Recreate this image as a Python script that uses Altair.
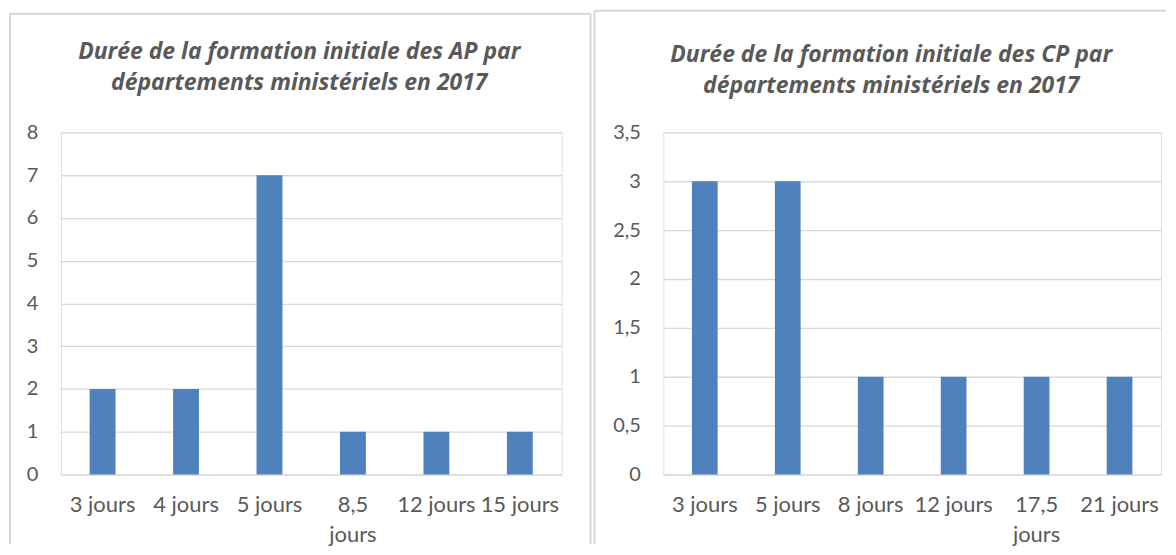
import altair as alt
import pandas as pd

# ---- data ----
AP_CATS = ["3 jours", "4 jours", "5 jours", "8,5 jours", "12 jours", "15 jours"]
AP_VALS = [2, 2, 7, 1, 1, 1]
AP_TICKS = [0, 1, 2, 3, 4, 5, 6, 7, 8]
AP_TITLE = ["Durée de la formation initiale des AP par", "départements ministériels en 2017"]

CP_CATS = ["3 jours", "5 jours", "8 jours", "12 jours", "17,5 jours", "21 jours"]
CP_VALS = [3, 3, 1, 1, 1, 1]
CP_TICKS = [0, 0.5, 1, 1.5, 2, 2.5, 3, 3.5]
CP_TITLE = ["Durée de la formation initiale des CP par", "départements ministériels en 2017"]

TXT = "#595959"
GRID = "#D9D9D9"
BAR = "#4F81BD"
BORDER = "#D6D6D6"
FONT = "Lato"
TITLE_FONT = "Open Sans"


def panel(cats, vals, ticks, title, width, height, dx, title_y, left, top, bottom, draw_right=True, right_ext=0):
    df = pd.DataFrame({"cat": cats, "val": vals})
    bars = alt.Chart(df).mark_bar(color=BAR).encode(
        x=alt.X(
            "cat:N",
            sort=cats,
            scale=alt.Scale(paddingInner=0.69, paddingOuter=0.345),
            axis=alt.Axis(
                title=None, labelAngle=0, domain=False, ticks=False, grid=False,
                labelExpr="length(datum.label) > 8 ? split(datum.label, ' ') : datum.label",
                labelFont=FONT, labelFontSize=22, labelColor=TXT, labelPadding=20,
                labelLineHeight=30, labelOverlap=False, labelLimit=300,
            ),
        ),
        y=alt.Y(
            "val:Q",
            scale=alt.Scale(domain=[ticks[0], ticks[-1]], nice=False),
            axis=alt.Axis(
                title=None, values=ticks, domain=False, ticks=False,
                gridColor=GRID, gridWidth=1.3,
                labelExpr="replace(format(datum.value, '~g'), '.', ',')",
                labelFont=FONT, labelFontSize=20, labelColor=TXT, labelPadding=23,
                labelOverlap=False,
            ),
        ),
    )
    frame_df = pd.DataFrame({"k": [0]})
    base = alt.Chart(frame_df)
    title_text = base.mark_text(
        font=TITLE_FONT, fontSize=23, fontStyle="italic", fontWeight="bold",
        color=TXT, align="center", baseline="alphabetic", lineHeight=32,
    ).encode(
        text=alt.value(title), x=alt.value(width / 2 + dx), y=alt.value(title_y)
    )
    top_rule = base.mark_rule(color=BORDER, strokeWidth=2).encode(
        x=alt.value(left), x2=alt.value(width + right_ext), y=alt.value(top)
    )
    left_rule = base.mark_rule(color=BORDER, strokeWidth=2).encode(
        x=alt.value(left), y=alt.value(top), y2=alt.value(height + bottom)
    )
    layers = [top_rule, left_rule, title_text]
    if draw_right:
        right_rule = base.mark_rule(color=BORDER, strokeWidth=2).encode(
            x=alt.value(width + right_ext), y=alt.value(top), y2=alt.value(height + bottom)
        )
        layers.append(right_rule)
    return alt.layer(bars, *layers).properties(width=width, height=height)


left_panel = panel(AP_CATS, AP_VALS, AP_TICKS, AP_TITLE, 502, 343, -12, -74,
                   left=-51, top=-119, bottom=70, draw_right=True, right_ext=29)
right_panel = panel(CP_CATS, CP_VALS, CP_TICKS, CP_TITLE, 499, 343, -21, -71,
                    left=-69, top=-122, bottom=70, draw_right=False, right_ext=5)

chart = alt.hconcat(left_panel, right_panel, spacing=0).properties(
    padding={"left": 0, "top": 0, "right": 0, "bottom": 0}
).configure_view(stroke=None).configure(background="white")

chart.save("out.html", embed_options={"renderer": "svg", "actions": False})
